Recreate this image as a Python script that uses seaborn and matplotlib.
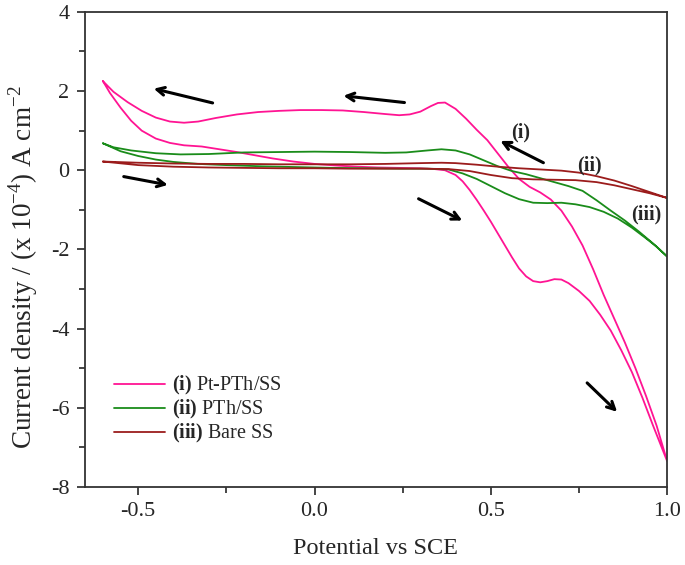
import matplotlib
matplotlib.use("Agg")
import matplotlib.pyplot as plt
import seaborn as sns
import pandas as pd
from matplotlib.ticker import MultipleLocator, FormatStrFormatter

# ---- data ----
pt_fwd_x = [-0.60, -0.58, -0.55, -0.52, -0.49, -0.45, -0.41, -0.37, -0.32, -0.27, -0.22, -0.17, -0.12, -0.06,
            0.00, 0.06, 0.12, 0.18, 0.24, 0.30, 0.34, 0.37, 0.40, 0.42, 0.44, 0.46, 0.48, 0.50, 0.52, 0.54,
            0.56, 0.58, 0.60, 0.62, 0.64, 0.66, 0.68, 0.70, 0.72, 0.75, 0.78, 0.81, 0.84, 0.87, 0.90, 0.93,
            0.96, 1.00]
pt_fwd_y = [2.25, 1.95, 1.58, 1.25, 1.00, 0.80, 0.69, 0.63, 0.60, 0.53, 0.46, 0.38, 0.30, 0.22,
            0.16, 0.12, 0.09, 0.07, 0.06, 0.05, 0.03, 0.00, -0.12, -0.28, -0.50, -0.75, -1.02, -1.30, -1.60, -1.90,
            -2.20, -2.48, -2.68, -2.80, -2.83, -2.80, -2.75, -2.76, -2.85, -3.05, -3.30, -3.65, -4.05, -4.55, -5.10, -5.75,
            -6.45, -7.35]
pt_rev_x = [1.00, 0.97, 0.94, 0.91, 0.88, 0.85, 0.82, 0.79, 0.76, 0.73, 0.70, 0.67, 0.64, 0.61, 0.58,
            0.55, 0.52, 0.49, 0.46, 0.43, 0.40, 0.37, 0.35, 0.33, 0.30, 0.27, 0.24, 0.20, 0.14, 0.08, 0.02,
            -0.04, -0.10, -0.16, -0.22, -0.28, -0.33, -0.37, -0.41, -0.45, -0.49, -0.53, -0.57, -0.60]
pt_rev_y = [-7.35, -6.45, -5.70, -5.00, -4.35, -3.75, -3.15, -2.50, -1.90, -1.42, -1.02, -0.74, -0.56, -0.42, -0.22,
            0.08, 0.42, 0.76, 1.02, 1.30, 1.55, 1.71, 1.70, 1.62, 1.48, 1.41, 1.39, 1.42, 1.47, 1.51, 1.52,
            1.52, 1.50, 1.47, 1.41, 1.32, 1.23, 1.20, 1.23, 1.33, 1.50, 1.72, 1.98, 2.25]

pth_fwd_x = [-0.60, -0.55, -0.50, -0.45, -0.40, -0.33, -0.25, -0.15, -0.05, 0.05, 0.15, 0.25, 0.32, 0.38,
             0.42, 0.46, 0.50, 0.54, 0.58, 0.62, 0.66, 0.70, 0.74, 0.78, 0.82, 0.86, 0.90, 0.94, 0.97, 1.00]
pth_fwd_y = [0.68, 0.48, 0.36, 0.27, 0.21, 0.16, 0.13, 0.10, 0.08, 0.06, 0.05, 0.04, 0.04, 0.02,
             -0.08, -0.22, -0.40, -0.58, -0.73, -0.82, -0.83, -0.82, -0.86, -0.93, -1.05, -1.22, -1.45, -1.72, -1.93, -2.18]
pth_rev_x = [1.00, 0.96, 0.92, 0.88, 0.84, 0.80, 0.76, 0.72, 0.68, 0.64, 0.60, 0.56, 0.52, 0.48, 0.44,
             0.40, 0.36, 0.32, 0.26, 0.20, 0.10, 0.00, -0.10, -0.20, -0.30, -0.38, -0.45, -0.52, -0.57, -0.60]
pth_rev_y = [-2.18, -1.85, -1.55, -1.27, -1.02, -0.76, -0.52, -0.40, -0.30, -0.20, -0.10, -0.02, 0.10, 0.25, 0.40,
             0.50, 0.53, 0.50, 0.45, 0.44, 0.46, 0.47, 0.46, 0.45, 0.41, 0.40, 0.43, 0.50, 0.58, 0.68]

ss_fwd_x = [-0.60, -0.50, -0.40, -0.30, -0.20, -0.10, 0.00, 0.10, 0.20, 0.30, 0.38, 0.44, 0.50, 0.56,
            0.62, 0.68, 0.74, 0.80, 0.85, 0.90, 0.95, 1.00]
ss_fwd_y = [0.22, 0.13, 0.09, 0.07, 0.06, 0.05, 0.05, 0.04, 0.04, 0.04, 0.03, -0.02, -0.12, -0.20,
            -0.23, -0.24, -0.25, -0.30, -0.38, -0.48, -0.58, -0.70]
ss_rev_x = [1.00, 0.95, 0.90, 0.85, 0.80, 0.75, 0.70, 0.64, 0.58, 0.52, 0.46, 0.40, 0.36, 0.30, 0.20,
            0.10, 0.00, -0.10, -0.20, -0.30, -0.40, -0.50, -0.60]
ss_rev_y = [-0.70, -0.55, -0.40, -0.26, -0.15, -0.06, -0.01, 0.02, 0.05, 0.09, 0.14, 0.18, 0.19, 0.18, 0.16,
            0.15, 0.15, 0.15, 0.16, 0.16, 0.17, 0.19, 0.22]

labels = [r"$\mathbf{(i)}$ Pt-PTh/SS", r"$\mathbf{(ii)}$ PTh/SS", r"$\mathbf{(iii)}$ Bare SS"]
colors = ["#FF1493", "#1A8C1A", "#9B1C1C"]

# arrows: (tail x, tail y, head x, head y)
arrows = [(-0.289, 1.70, -0.456, 2.06),
          (0.255, 1.71, 0.082, 1.88),
          (-0.541, -0.16, -0.416, -0.37),
          (0.295, -0.72, 0.419, -1.27),
          (0.649, 0.19, 0.527, 0.74),
          (0.773, -5.37, 0.858, -6.10)]
tags = [("(i)", 0.585, 0.95), ("(ii)", 0.78, 0.12), ("(iii)", 0.94, -1.12)]

# ---- plotting ----
sns.set_style("ticks")
plt.rcParams["font.family"] = ["Liberation Serif", "DejaVu Serif"]
plt.rcParams["mathtext.fontset"] = "custom"
plt.rcParams["mathtext.rm"] = "Liberation Serif"
plt.rcParams["mathtext.bf"] = "Liberation Serif:bold"
plt.rcParams["axes.unicode_minus"] = False

fig = plt.figure(figsize=(6.85, 5.65), dpi=100)
ax = fig.add_axes([0.1235, 0.138, 0.8505, 0.841])

series = [(pt_fwd_x + pt_rev_x, pt_fwd_y + pt_rev_y),
          (pth_fwd_x + pth_rev_x, pth_fwd_y + pth_rev_y),
          (ss_fwd_x + ss_rev_x, ss_fwd_y + ss_rev_y)]
for (xs, ys), lab, col in zip(series, labels, colors):
    df = pd.DataFrame({"E": xs, "J": ys})
    sns.lineplot(data=df, x="E", y="J", sort=False, estimator=None, ax=ax,
                 color=col, lw=1.3, label=lab)

for tx, ty, hx, hy in arrows:
    ax.annotate("", xy=(hx, hy), xytext=(tx, ty),
                arrowprops=dict(arrowstyle="->,head_length=0.55,head_width=0.28",
                                color="black", lw=2.2, shrinkA=0, shrinkB=0))
for t, x, y in tags:
    ax.text(x, y, t, fontsize=14.5, fontweight="bold", ha="center", va="center")

ax.set_xlim(-0.652, 1.0)
ax.set_ylim(-8, 4)
ax.xaxis.set_major_locator(MultipleLocator(0.5))
ax.xaxis.set_minor_locator(MultipleLocator(0.25))
ax.yaxis.set_major_locator(MultipleLocator(2))
ax.yaxis.set_minor_locator(MultipleLocator(1))
ax.xaxis.set_major_formatter(FormatStrFormatter("%.1f"))
ax.tick_params(which="major", direction="out", length=6, width=1.2, labelsize=16, pad=5)
ax.tick_params(which="minor", direction="out", length=4, width=1.2)
for s in ax.spines.values():
    s.set_visible(True)
    s.set_linewidth(1.3)
    s.set_color("#333333")

ax.set_xlabel("Potential vs SCE", fontsize=17.5, labelpad=12)
ax.set_ylabel(r"Current density / (x 10$^{-4}$) A cm$^{-2}$", fontsize=19.5)
ax.yaxis.set_label_coords(-0.076, 0.463)

leg = ax.legend(loc="lower left", bbox_to_anchor=(0.02, 0.05), frameon=False,
                fontsize=14.5, handlelength=2.5, handletextpad=0.35, labelspacing=0.05)

fig.savefig("out.png", dpi=100)
